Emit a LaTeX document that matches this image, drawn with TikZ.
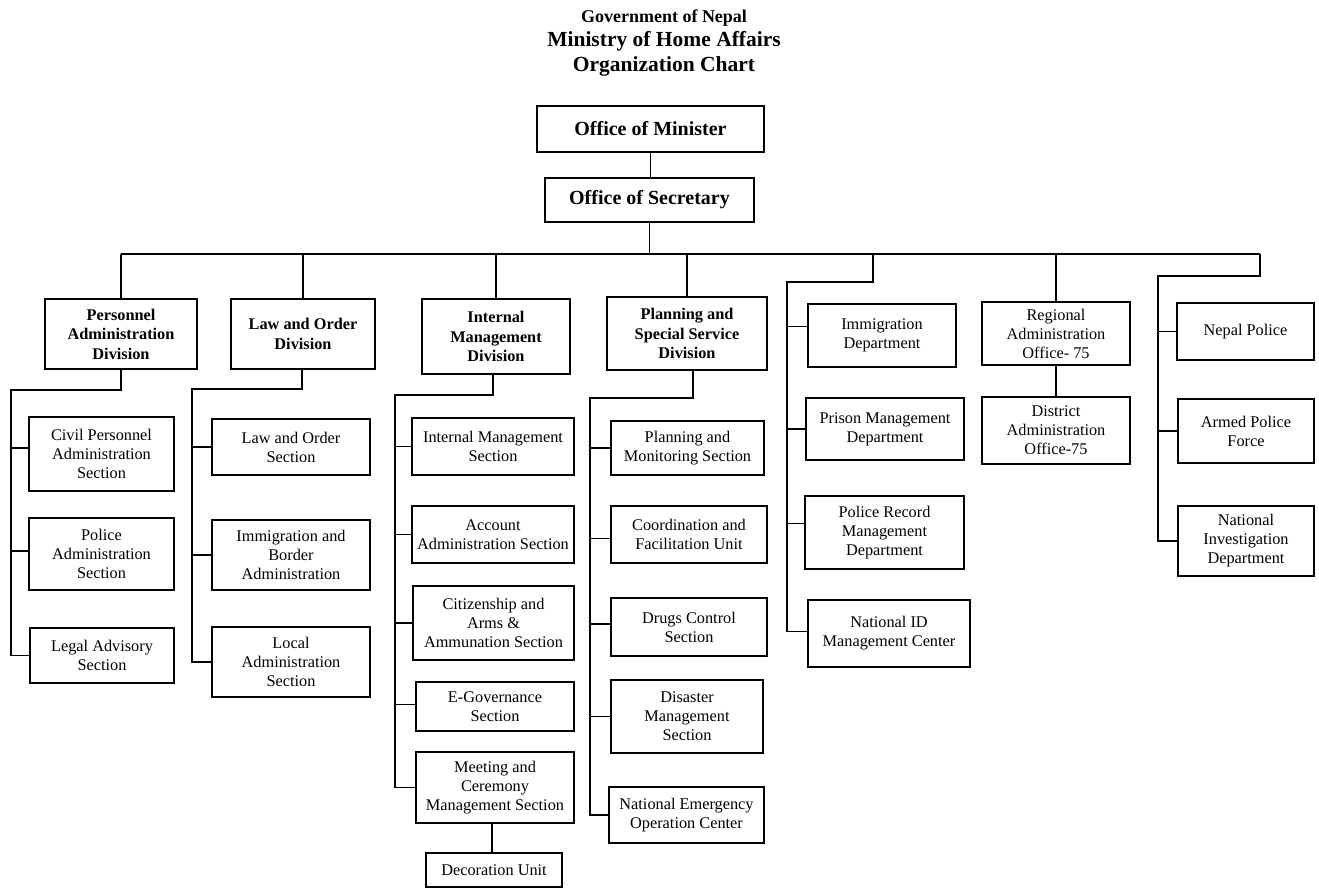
\documentclass[tikz,border=0pt]{standalone}
\usepackage{fontspec}
\setmainfont{Liberation Serif}
\tikzset{
  ob/.style={draw, line width=1.2pt, rectangle, align=center, inner sep=1pt,
             font=\fontsize{16.3}{19}\selectfont},
  obb/.style={ob, font=\fontsize{16.3}{19.5}\selectfont\bfseries},
  obt/.style={ob, font=\fontsize{20}{24}\selectfont\bfseries},
  ln/.style={line width=1.2pt},
  ttl/.style={anchor=base, inner sep=0pt, font=\fontsize{21.5}{25}\selectfont\bfseries},
}
% \obox[style]{name}{x1}{y1}{x2}{y2}{text}
\newcommand{\obox}[7][ob]{\node[#1, minimum width={(#5)-(#3)}, minimum height={(#6)-(#4)}] (#2) at ({((#3)+(#5))/2},{((#4)+(#6))/2}) {#7};}
\begin{document}
\begin{tikzpicture}[x=1pt, y=-1pt]
\useasboundingbox (0,0) rectangle (1319,890);
% titles
\node[ttl, font=\fontsize{18}{22}\selectfont\bfseries] (t1) at (664,23) {Government of Nepal};
\node[ttl] (t2) at (664,47) {Ministry of Home Affairs};
\node[ttl] (t3) at (664,72) {Organization Chart};
% top
\obox[obt]{min}{537}{106}{764}{152}{Office of Minister}
\obox[obt]{sec}{545}{178}{754}{222}{Office of Secretary}
% divisions
\obox[obb]{pad}{45}{299}{197}{369}{Personnel\\Administration\\Division}
\obox[obb]{lod}{231}{299}{375}{369}{Law and Order\\Division}
\obox[obb]{imd}{422}{299}{570}{374}{Internal\\Management\\Division}
\obox[obb]{pss}{607}{297}{767}{370}{Planning and\\Special Service\\Division}
% personnel sections
\obox{pciv}{29}{417}{174}{491}{Civil Personnel\\Administration\\Section}
\obox{ppol}{29}{518}{174}{590}{Police\\Administration\\Section}
\obox{pleg}{30}{628}{174}{683}{Legal Advisory\\Section}
% law and order sections
\obox{llos}{212}{419}{370}{475}{Law and Order\\Section}
\obox{libs}{212}{520}{370}{590}{Immigration and\\Border\\Administration}
\obox{llas}{212}{627}{370}{697}{Local\\Administration\\Section}
% internal management sections
\obox{iims}{412}{418}{574}{475}{Internal Management\\Section}
\obox{iacc}{412}{506}{574}{563}{Account\\Administration Section}
\obox{icit}{413}{586}{574}{660}{Citizenship and\\Arms \&\\Ammunation Section}
\obox{iegv}{416}{682}{574}{731}{E-Governance\\Section}
\obox{imcm}{416}{752}{574}{823}{Meeting and\\Ceremony\\Management Section}
\obox{idec}{426}{853}{562}{887}{Decoration Unit}
% planning sections
\obox{ppms}{611}{421}{764}{475}{Planning and\\Monitoring Section}
\obox{pcfu}{611}{506}{767}{563}{Coordination and\\Facilitation Unit}
\obox{pdcs}{611}{598}{767}{656}{Drugs Control\\Section}
\obox{pdms}{611}{680}{763}{753}{Disaster\\Management\\Section}
\obox{pneo}{609}{787}{764}{843}{National Emergency\\Operation Center}
% departments
\obox{dimm}{808}{304}{956}{367}{Immigration\\Department}
\obox{dpri}{806}{398}{964}{460}{Prison Management\\Department}
\obox{dprm}{805}{496}{964}{569}{Police Record\\Management\\Department}
\obox{dnid}{808}{600}{970}{667}{National ID\\Management Center}
% regional
\obox{rao}{982}{302}{1130}{365}{Regional\\Administration\\Office- 75}
\obox{dao}{982}{397}{1130}{464}{District\\Administration\\Office-75}
% police
\obox{nep}{1177}{303}{1314}{360}{Nepal Police}
\obox{apf}{1178}{399}{1314}{463}{Armed Police\\Force}
\obox{nid}{1178}{506}{1314}{576}{National\\Investigation\\Department}
% connectors
\coordinate (busL) at (121,254);
\coordinate (busR) at (1260,254);
\draw[ln] (min.south) -- (min.south |- sec.north);
\draw[ln] (sec.south) -- (sec.south |- busL);
\draw[ln] (busL) -- (busR);
\draw[ln] (pad.north) -- (pad.north |- busL);
\draw[ln] (lod.north) -- (lod.north |- busL);
\draw[ln] (imd.north) -- (imd.north |- busL);
\draw[ln] (pss.north) -- (pss.north |- busL);
\draw[ln] (rao.north) -- (rao.north |- busL);
\draw[ln] (rao.south) -- (dao.north);
% personnel
\coordinate (pturn) at (11,390);
\coordinate (pcivw) at ([yshift=6pt]pciv.west);
\coordinate (ppolw) at ([yshift=3pt]ppol.west);
\draw[ln] (pad.south) |- (pturn) -- (pturn |- pleg.west) -- (pleg.west);
\draw[ln] (pturn |- pcivw) -- (pcivw);
\draw[ln] (pturn |- ppolw) -- (ppolw);
% law and order
\coordinate (lturn) at (192,389);
\coordinate (lods) at ([xshift=-1pt]lod.south);
\draw[ln] (lods) |- (lturn) -- (lturn |- llas.west) -- (llas.west);
\draw[ln] (lturn |- llos.west) -- (llos.west);
\draw[ln] (lturn |- libs.west) -- (libs.west);
% internal
\coordinate (iturn) at (395,395);
\coordinate (imds) at ([xshift=-3pt]imd.south);
\coordinate (iegvw) at ([yshift=2pt]iegv.west);
\coordinate (imcms) at ([xshift=-3pt]imcm.south);
\draw[ln] (imds) |- (iturn) -- (iturn |- imcm.west) -- (imcm.west);
\draw[ln] (iturn |- iims.west) -- (iims.west);
\draw[ln] (iturn |- iacc.west) -- (iacc.west);
\draw[ln] (iturn |- icit.west) -- (icit.west);
\draw[ln] (iturn |- iegvw) -- (iegvw);
\draw[ln] (imcms) -- (imcms |- idec.north);
% planning
\coordinate (qturn) at (590,398);
\coordinate (psss) at ([xshift=6pt]pss.south);
\coordinate (pcfuw) at ([yshift=-4pt]pcfu.west);
\coordinate (pdcsw) at ([yshift=3pt]pdcs.west);
\draw[ln] (psss) |- (qturn) -- (qturn |- pneo.west) -- (pneo.west);
\draw[ln] (qturn |- ppms.west) -- (ppms.west);
\draw[ln] (qturn |- pcfuw) -- (pcfuw);
\draw[ln] (qturn |- pdcsw) -- (pdcsw);
\draw[ln] (qturn |- pdms.west) -- (pdms.west);
% departments
\coordinate (dtop) at (873,254);
\coordinate (dturn) at (787,282);
\coordinate (dnidw) at ([yshift=2pt]dnid.west);
\coordinate (dimmw) at ([yshift=9pt]dimm.west);
\coordinate (dprmw) at ([yshift=9pt]dprm.west);
\draw[ln] (dtop) |- (dturn) -- (dturn |- dnidw) -- (dnidw);
\draw[ln] (dturn |- dimmw) -- (dimmw);
\draw[ln] (dturn |- dpri.west) -- (dpri.west);
\draw[ln] (dturn |- dprmw) -- (dprmw);
% police
\coordinate (rturn) at (1158,276);
\draw[ln] (busR) |- (rturn) -- (rturn |- nid.west) -- (nid.west);
\draw[ln] (rturn |- nep.west) -- (nep.west);
\draw[ln] (rturn |- apf.west) -- (apf.west);
\end{tikzpicture}
\end{document}
